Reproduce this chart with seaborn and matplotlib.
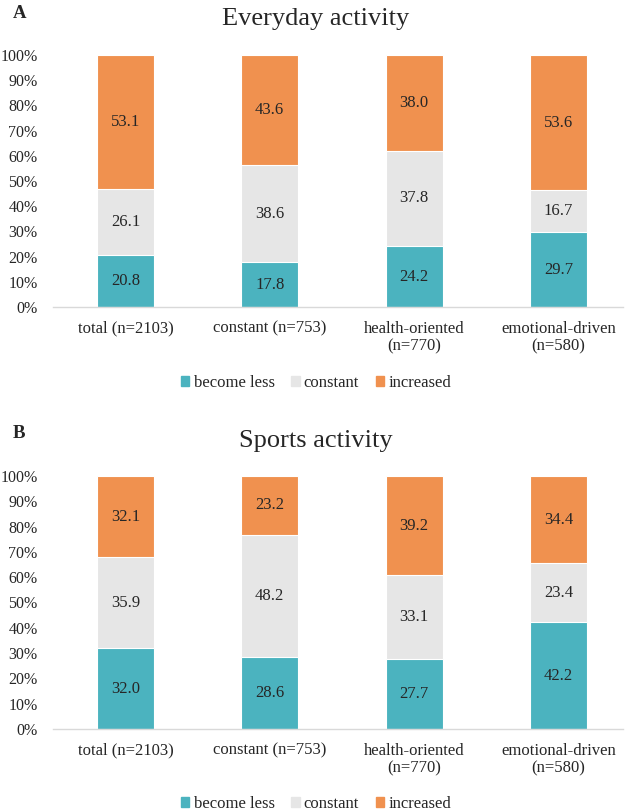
import matplotlib.pyplot as plt
import matplotlib.patches as mpatches
import seaborn as sns
import pandas as pd

# data
groups = ['total (n=2103)', 'constant (n=753)', 'health-oriented\n(n=770)',
          'emotional-driven\n(n=580)']
series = ['become less', 'constant', 'increased']

everyday_less = [20.8, 17.8, 24.2, 29.7]
everyday_const = [26.1, 38.6, 37.8, 16.7]
everyday_incr = [53.1, 43.6, 38.0, 53.6]

sports_less = [32.0, 28.6, 27.7, 42.2]
sports_const = [35.9, 48.2, 33.1, 23.4]
sports_incr = [32.1, 23.2, 39.2, 34.4]

yticks = [0, 10, 20, 30, 40, 50, 60, 70, 80, 90, 100]

colors = ['#4BB3BF', '#E6E6E6', '#F0914F']

sns.set_style('white')
plt.rcParams['font.family'] = ['Liberation Serif', 'DejaVu Serif']

W, H = 632, 811
fig = plt.figure(figsize=(W / 100, H / 100), dpi=100)


def px(x0, y_top, x1, y_bot):
    return [x0 / W, 1 - y_bot / H, (x1 - x0) / W, (y_bot - y_top) / H]


def panel(rect, less, const, incr, letter, title, title_y, letter_y, legend_y):
    ax = fig.add_axes(rect)
    df = pd.DataFrame({'group': groups, 'less': less, 'const': const, 'incr': incr})
    df['c1'] = df['less']
    df['c2'] = df['less'] + df['const']
    df['c3'] = df['c2'] + df['incr']
    # cumulative bars, tallest first so the lower segments sit on top
    for col, c in zip(['c3', 'c2', 'c1'], colors[::-1]):
        sns.barplot(data=df, x='group', y=col, color=c, width=0.395,
                    edgecolor='white', linewidth=0.8, ax=ax, saturation=1)
    # value labels
    for i, row in df.iterrows():
        ax.text(i, row['less'] / 2, f"{row['less']:.1f}", ha='center', va='center', fontsize=12)
        ax.text(i, row['less'] + row['const'] / 2, f"{row['const']:.1f}", ha='center', va='center', fontsize=12)
        ax.text(i, row['c2'] + row['incr'] / 2, f"{row['incr']:.1f}", ha='center', va='center', fontsize=12)
    ax.set_xlim(-0.502, 3.448)
    ax.set_ylim(0, 100)
    ax.set_yticks(yticks)
    ax.set_yticklabels([f'{t}%' for t in yticks], fontsize=11.5)
    ax.tick_params(axis='y', length=0, pad=11)
    ax.tick_params(axis='x', length=0, pad=10, labelsize=12)
    for lab in ax.get_xticklabels():
        lab.set_linespacing(1.15)
    ax.set_xlabel('')
    ax.set_ylabel('')
    for s in ['top', 'right', 'left']:
        ax.spines[s].set_visible(False)
    ax.spines['bottom'].set_color('#D9D9D9')
    ax.spines['bottom'].set_linewidth(1)
    fig.text(0.5, 1 - title_y / H, title, ha='center', va='baseline', fontsize=19)
    fig.text(13 / W, 1 - letter_y / H, letter, ha='left', va='baseline',
             fontsize=13.5, fontweight='bold')
    handles = [mpatches.Patch(color=c, label=s) for c, s in zip(colors, series)]
    fig.legend(handles=handles, loc='center', bbox_to_anchor=(0.5, 1 - legend_y / H),
               ncol=3, frameon=False, fontsize=12, handlelength=0.5, handleheight=0.5,
               handletextpad=0.25, columnspacing=1.0, borderpad=0)
    return ax


panel(px(53, 55, 623, 307), everyday_less, everyday_const, everyday_incr,
      'A', 'Everyday activity', 25, 18, 383)
panel(px(53, 476, 623, 729), sports_less, sports_const, sports_incr,
      'B', 'Sports activity', 447, 438, 804)

fig.savefig('out.png', dpi=100)
